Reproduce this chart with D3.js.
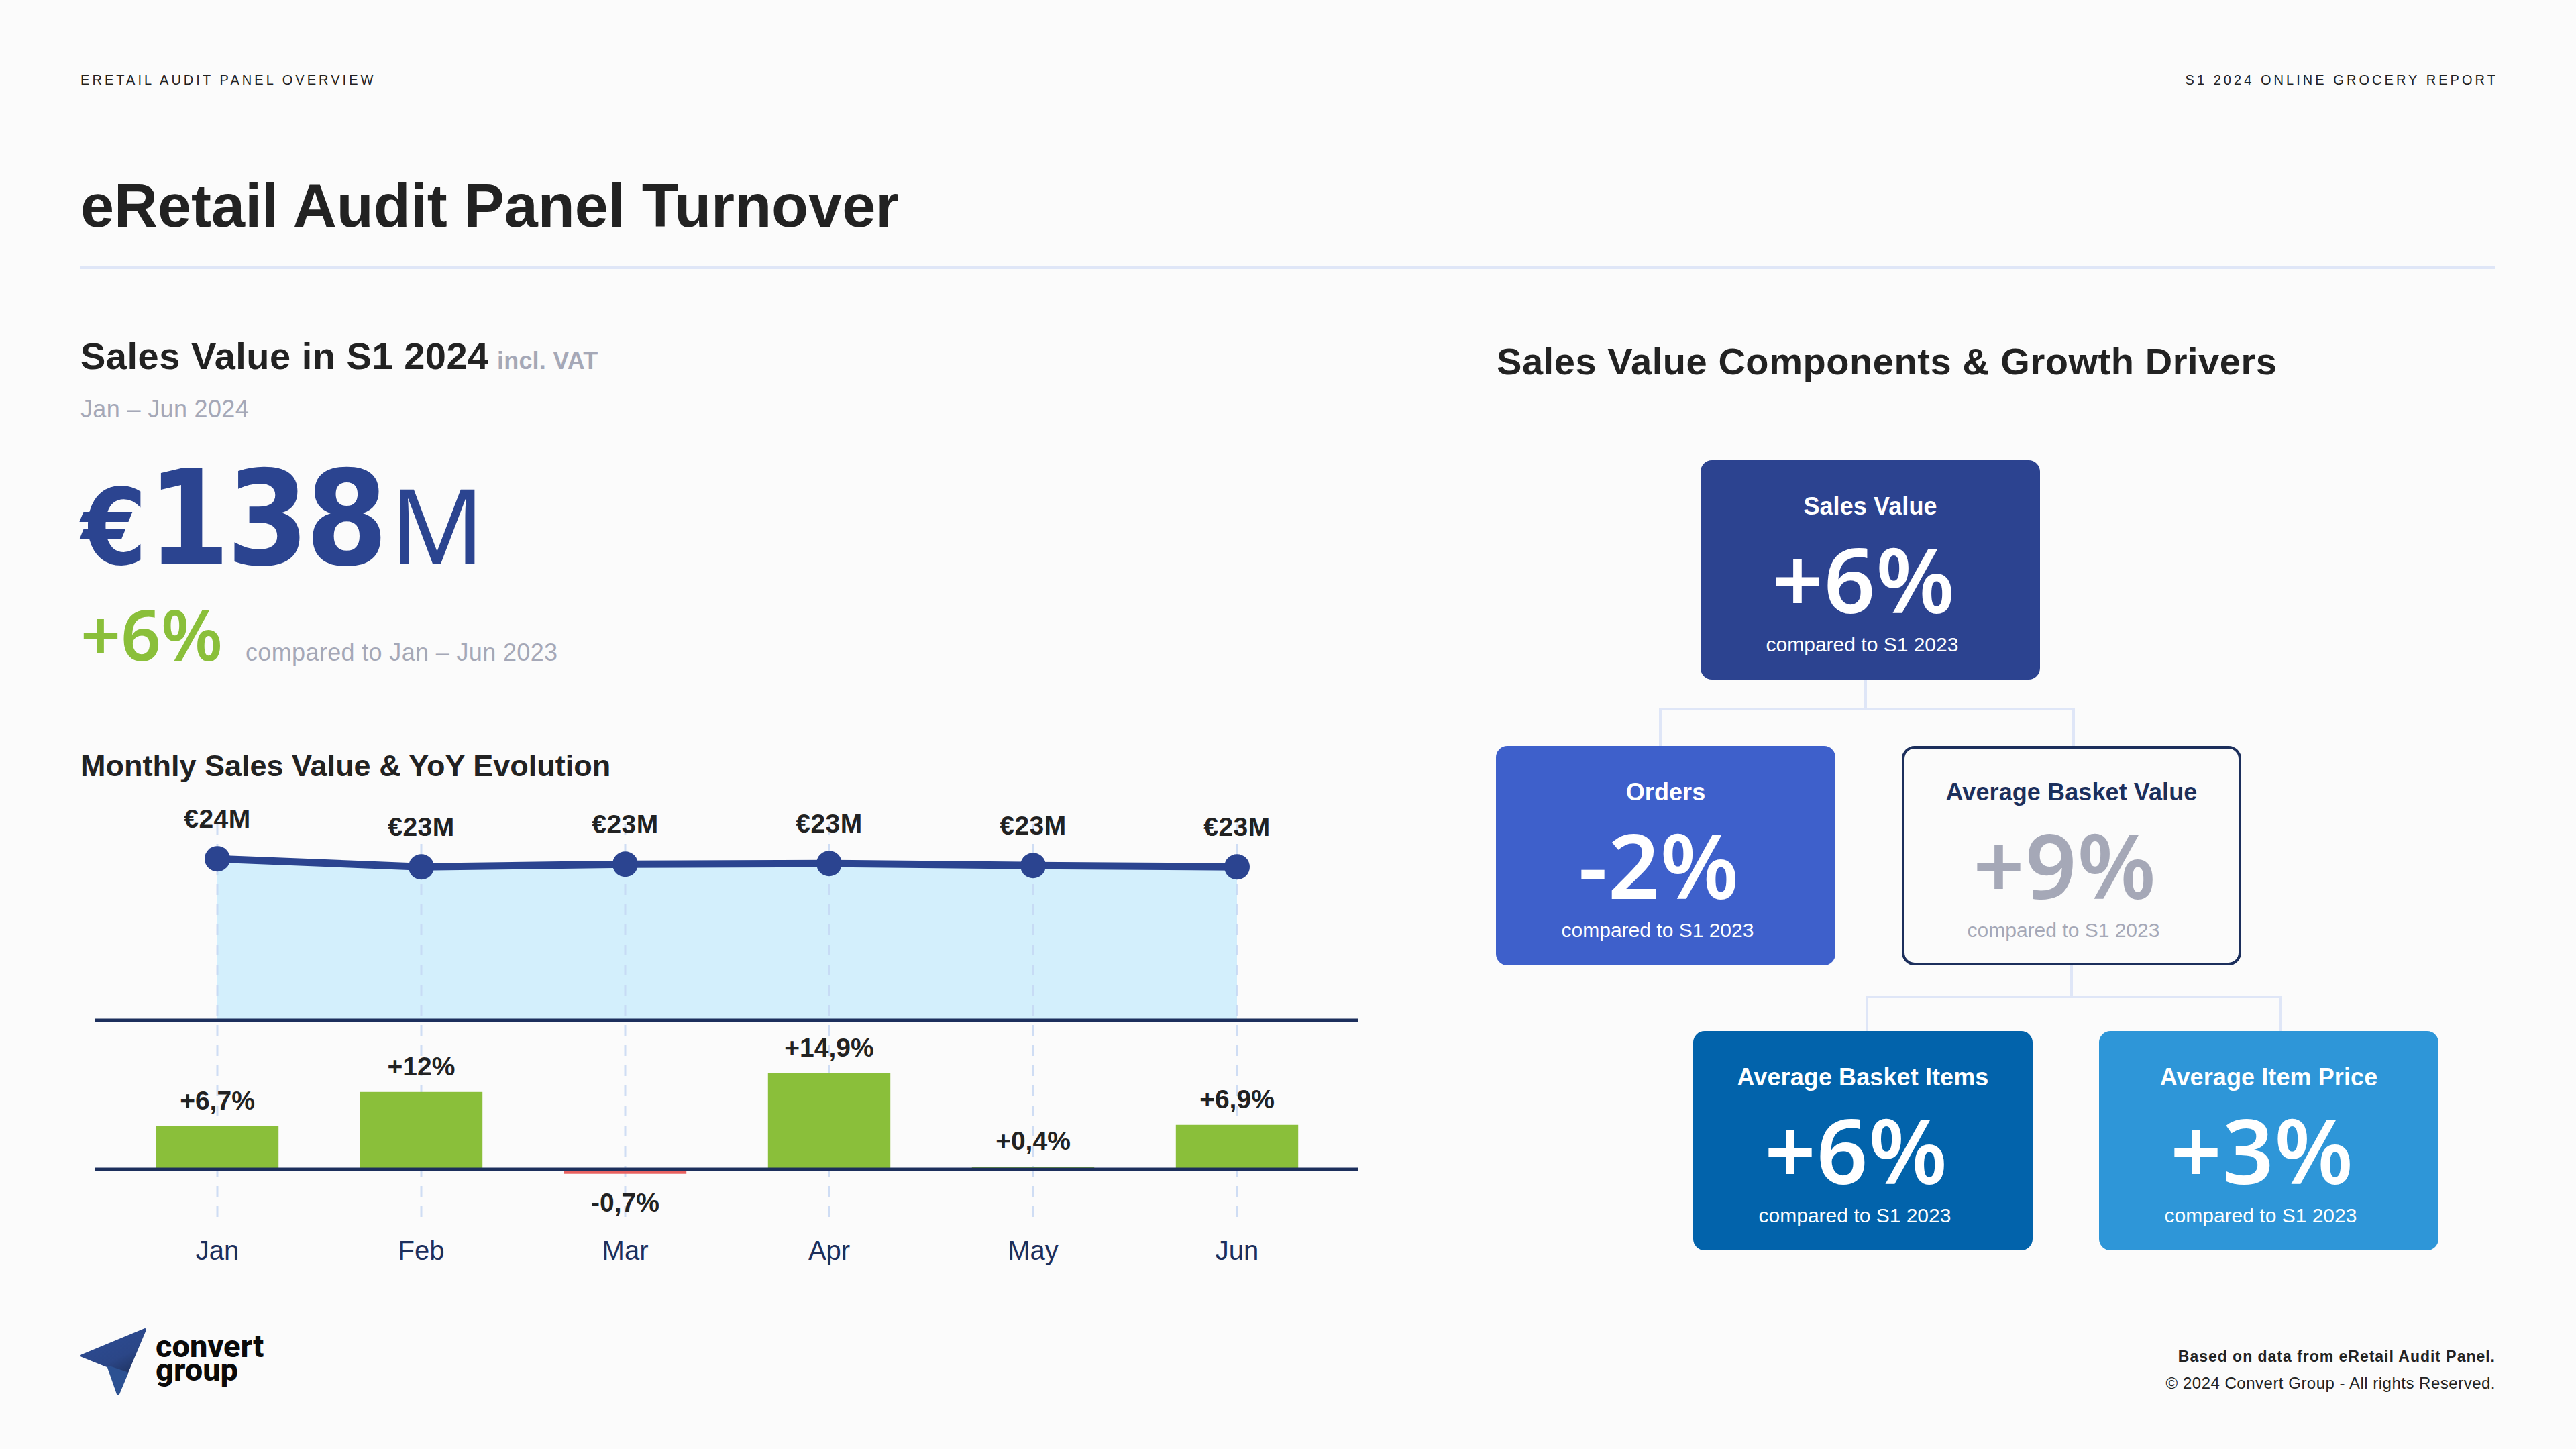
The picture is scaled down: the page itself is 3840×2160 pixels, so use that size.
<!DOCTYPE html>
<html><head>
<meta charset="utf-8">
<title>eRetail Audit Panel Turnover</title>
<script src="https://d3js.org/d3.v7.min.js"></script>
<style>
  html, body { margin: 0; padding: 0; background: #fbfbfb; }
  svg { display: block; }
  text { font-family: "Liberation Sans", Arial, sans-serif; fill: #222222; }
  .big { font-family: "Noto Sans", sans-serif; }
  .grey { fill: #a5a8b7; }
</style>
</head>
<body>
<svg id="chart" width="3840" height="2160"></svg>

<script>
  // Data
  let months = ["Jan", "Feb", "Mar", "Apr", "May", "Jun"];
  let salesValue = [23.8, 22.6, 23.0, 23.1, 22.8, 22.6]; // EUR million
  let yoyChange = [6.7, 12, -0.7, 14.9, 0.4, 6.9]; // percent
  let driverNames = ["Sales Value", "Orders", "Average Basket Value", "Average Basket Items", "Average Item Price"];
  let driverChange = [6, -2, 9, 6, 3];

  // Layout of the driver boxes, same order as driverNames
  let boxX = [2535, 2230, 2835, 2524, 3129];
  let boxY = [686, 1112, 1112, 1537, 1537];
  let boxFill = ["#2c4390", "#3e60cb", "#fbfbfb", "#0263ab", "#2e96d8"];
  let boxW = 506, boxH = 327;

  let navy = "#1c2f5c", blue = "#2b4490", green = "#8abf3a", red = "#e8605f", pale = "#dfe6f7";

  let svg = d3.select("#chart");

  function label(x, y, str, size, weight, anchor, spacing) {
    return svg.append("text")
        .attr("x", x)
        .attr("y", y)
        .attr("text-anchor", anchor || "start")
        .style("font-size", size + "px")
        .style("font-weight", weight || 400)
        .style("letter-spacing", (spacing || 0) + "px")
        .text(str);
  }

  function signed(v) {
    return (v > 0 ? "+" : "") + String(v).replace(".", ",") + "%";
  }

  // Header
  label(120, 126, "ERETAIL AUDIT PANEL OVERVIEW", 20, 400, "start", 4.05);
  label(3724, 126, "S1 2024 ONLINE GROCERY REPORT", 20, 400, "end", 4.05);
  label(120, 338, "eRetail Audit Panel Turnover", 90, 700);
  svg.append("rect").attr("x", 120).attr("y", 397).attr("width", 3600).attr("height", 4).style("fill", pale);

  // KPI block
  label(120, 550, "Sales Value in S1 2024", 56, 700, "start", 0.5);
  label(741, 550, "incl. VAT", 36, 700, "start", 0.2).attr("class", "grey");
  label(120, 622, "Jan – Jun 2024", 36, 400, "start", 0.35).attr("class", "grey");

  let condensed = "'DejaVu Sans Condensed', 'DejaVu Sans'";
  label(121, 841, "€", 156, 700)
      .style("font-family", condensed)
      .style("font-stretch", "condensed")
      .style("fill", blue);
  label(220, 841, "138", 196, 700, "start", -5)
      .style("font-family", condensed)
      .style("font-stretch", "condensed")
      .style("fill", blue);
  label(581, 841, "M", 156, 400).attr("class", "big").style("fill", blue);

  label(120, 985, "+6%", 105, 600).attr("class", "big").style("fill", green);
  label(366, 985, "compared to Jan – Jun 2023", 36, 400, "start", 0.35).attr("class", "grey");

  // Monthly chart
  label(120, 1157, "Monthly Sales Value & YoY Evolution", 45, 700);

  let axisLeft = 142, axisRight = 2025;
  let x = d3.scaleBand().domain(months).range([172, 1996]).paddingInner(0.4).paddingOuter(0.2);
  let cx = function(m) { return x(m) + x.bandwidth() / 2; };
  let ySales = d3.scaleLinear().domain([0, 25]).range([1521, 1268]);
  let yYoy = d3.scaleLinear().domain([0, 15]).range([1743, 1599]);

  let salesRows = months.map(function(m, i) { return { month: m, value: salesValue[i] }; });
  let yoyRows = months.map(function(m, i) { return { month: m, value: yoyChange[i] }; });

  svg.append("path")
      .datum(salesRows)
      .attr("d", d3.area()
          .x(function(d) { return cx(d.month); })
          .y0(ySales(0))
          .y1(function(d) { return ySales(d.value); }))
      .style("fill", "#d3effc");

  // dashed month guides
  svg.selectAll(".guide").data(months).enter().append("line")
      .attr("class", "guide")
      .attr("x1", cx).attr("x2", cx)
      .attr("y1", 1228).attr("y2", 1820)
      .style("stroke", "#c4d6f3")
      .style("stroke-opacity", 0.8)
      .style("stroke-width", 3)
      .style("stroke-dasharray", "16 14");

  svg.selectAll(".bar").data(yoyRows).enter().append("rect")
      .attr("class", "bar")
      .attr("x", function(d) { return x(d.month); })
      .attr("width", x.bandwidth())
      .attr("y", function(d) { return yYoy(Math.max(d.value, 0)); })
      .attr("height", function(d) { return Math.abs(yYoy(d.value) - yYoy(0)); })
      .style("fill", function(d) { return d.value < 0 ? red : green; });

  [ySales(0), yYoy(0)].forEach(function(y) {
    svg.append("line")
        .attr("x1", axisLeft).attr("x2", axisRight)
        .attr("y1", y).attr("y2", y)
        .style("stroke", navy)
        .style("stroke-width", 5);
  });

  svg.append("path")
      .datum(salesRows)
      .attr("d", d3.line()
          .x(function(d) { return cx(d.month); })
          .y(function(d) { return ySales(d.value); }))
      .style("fill", "none")
      .style("stroke", blue)
      .style("stroke-width", 11);

  svg.selectAll(".dot").data(salesRows).enter().append("circle")
      .attr("class", "dot")
      .attr("cx", function(d) { return cx(d.month); })
      .attr("cy", function(d) { return ySales(d.value); })
      .attr("r", 19)
      .style("fill", blue);

  salesRows.forEach(function(d) {
    label(cx(d.month), ySales(d.value) - 46, "€" + Math.round(d.value) + "M", 39, 700, "middle", 0.5);
  });
  yoyRows.forEach(function(d) {
    let y = d.value < 0 ? yYoy(d.value) + 56 : yYoy(d.value) - 25;
    label(cx(d.month), y, signed(d.value), 39, 700, "middle");
  });

  // month labels come from the axis
  let monthAxis = svg.append("g")
      .attr("transform", "translate(0," + yYoy(0) + ")")
      .call(d3.axisBottom(x).tickSize(0).tickPadding(107));
  monthAxis.select(".domain").remove();
  monthAxis.selectAll("text")
      .style("font-family", "'Liberation Sans'")
      .style("font-size", "40px")
      .style("fill", navy);

  // Drivers tree
  label(2231, 558, "Sales Value Components & Growth Drivers", 56, 700, "start", 0.55);

  function connector(fromX, fromY, midY, toY, leftX, rightX) {
    let path = d3.path();
    path.moveTo(fromX, fromY);
    path.lineTo(fromX, midY);
    path.moveTo(leftX, toY);
    path.lineTo(leftX, midY);
    path.lineTo(rightX, midY);
    path.lineTo(rightX, toY);
    svg.append("path")
        .attr("d", path.toString())
        .style("fill", "none")
        .style("stroke", pale)
        .style("stroke-width", 4);
  }
  connector(2781, boxY[0] + boxH, 1057, boxY[1], 2475, 3091);
  connector(3088, boxY[2] + boxH, 1486, boxY[3], 2783, 3399);

  driverNames.forEach(function(name, i) {
    let outlined = i == 2; // the basket value box is the only one without a solid fill
    let inset = outlined ? 2 : 0; // keep the outline inside the box edge
    svg.append("rect")
        .attr("x", boxX[i] + inset)
        .attr("y", boxY[i] + inset)
        .attr("width", boxW - 2 * inset)
        .attr("height", boxH - 2 * inset)
        .attr("rx", 17)
        .style("fill", boxFill[i])
        .style("stroke", outlined ? navy : "none")
        .style("stroke-width", 4);

    let mid = boxX[i] + boxW / 2;
    label(mid, boxY[i] + 81, name, 36, 700, "middle", 0.1).style("fill", outlined ? navy : "#ffffff");
    label(mid - 10, boxY[i] + 228, signed(driverChange[i]), 134, 600, "middle", 1)
        .attr("class", "big")
        .style("fill", outlined ? "#a5a8b7" : "#ffffff");
    label(mid - 12, boxY[i] + 285, "compared to S1 2023", 30, 400, "middle")
        .style("fill", outlined ? "#a5a8b7" : "#ffffff");
  });

  // Logo
  let grad = svg.append("defs").append("linearGradient")
      .attr("id", "logoFade")
      .attr("x1", "30%").attr("y1", "20%").attr("x2", "85%").attr("y2", "100%");
  grad.append("stop").attr("offset", "0%").attr("stop-color", "#2c4a90");
  grad.append("stop").attr("offset", "55%").attr("stop-color", "#2b4687");
  grad.append("stop").attr("offset", "100%").attr("stop-color", "#1f3360");

  svg.append("polygon")
      .attr("points", "216,1982 122,2021 162,2037 189,2046")
      .style("fill", "url(#logoFade)")
      .style("stroke", "url(#logoFade)")
      .style("stroke-width", 4)
      .style("stroke-linejoin", "round");
  svg.append("polygon")
      .attr("points", "162,2038 189,2047 176,2078")
      .style("fill", "#2c5192")
      .style("stroke", "#2c5192")
      .style("stroke-width", 4)
      .style("stroke-linejoin", "round");

  label(232, 2023, "convert", 47, 800).style("font-family", "Roboto").style("fill", "#0a0a0a");
  label(232, 2058, "group", 47, 800).style("font-family", "Roboto").style("fill", "#0a0a0a");

  // Footer
  label(3720, 2030, "Based on data from eRetail Audit Panel.", 23, 700, "end", 0.98);
  label(3720, 2070, "© 2024 Convert Group - All rights Reserved.", 24, 400, "end", 0.5);
</script>
</body>
</html>
